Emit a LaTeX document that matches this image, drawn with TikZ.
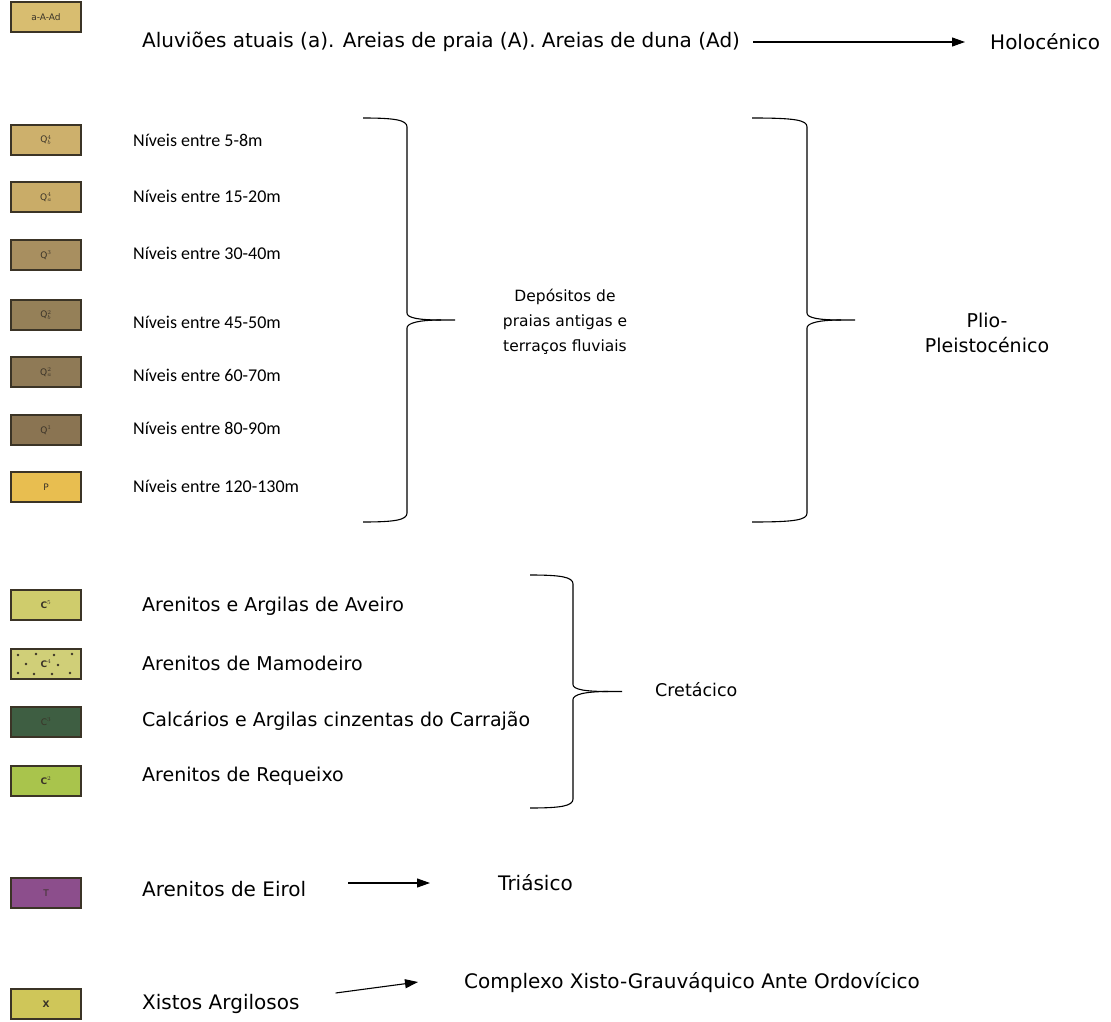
\documentclass[tikz,border=0pt]{standalone}
\usepackage{fontspec}
\setmainfont{DejaVu Sans}
\newfontfamily\levelfont{Carlito}
\usetikzlibrary{arrows.meta}

\definecolor{boxline}{HTML}{3B3426}
\definecolor{boxtext}{HTML}{3A3328}
\definecolor{cAlu}{HTML}{D8BD70}
\definecolor{cQa}{HTML}{CDB06C}
\definecolor{cQb}{HTML}{C9AC68}
\definecolor{cQc}{HTML}{A88F60}
\definecolor{cQd}{HTML}{958058}
\definecolor{cQe}{HTML}{8F7A56}
\definecolor{cQf}{HTML}{8A7452}
\definecolor{cP}{HTML}{E8BE50}
\definecolor{cCv}{HTML}{CFCC6C}
\definecolor{cCiv}{HTML}{D0CF78}
\definecolor{cCiii}{HTML}{3E5E42}
\definecolor{cCii}{HTML}{A9C44C}
\definecolor{cT}{HTML}{8C4E8C}
\definecolor{cX}{HTML}{CFC659}

% curly brace: #1 left ends, #2 spine, #3 tip x, #4 top, #5 bottom
\newcommand\legbrace[5]{%
  \pgfmathsetmacro\bmid{(#4+#5)/2}%
  \draw[brace] (#1,#4) .. controls ({#2-12},#4) and (#2,{#4+2}) .. (#2,{#4+9})
     -- (#2,{\bmid-7}) .. controls (#2,{\bmid-2}) and ({#2+12},\bmid) .. ({#3-14},\bmid) -- (#3,\bmid);
  \draw[brace] ({#3-14},\bmid) .. controls ({#2+12},\bmid) and (#2,{\bmid+3}) .. (#2,{\bmid+8})
     -- (#2,{#5-9}) .. controls (#2,{#5-2}) and ({#2-12},#5) .. (#1,#5);
}

\begin{document}
\begin{tikzpicture}[x=1pt,y=-1pt,
  lbl/.style={anchor=west, inner sep=0pt, font=\fontsize{20}{24}\selectfont},
  crt/.style={anchor=west, inner sep=0pt, font=\fontsize{19}{23}\selectfont},
  lvl/.style={anchor=west, inner sep=0pt, font=\levelfont\fontsize{18}{22}\selectfont},
  ctr/.style={align=center, inner sep=0pt, font=\fontsize{15.5}{25}\selectfont},
  unit/.style={draw=boxline, line width=1.6pt, minimum width=70pt, minimum height=30pt,
               inner sep=0pt, font=\fontsize{9}{10}\selectfont, text=boxtext},
  arr/.style={-{Triangle[length=13pt,width=9pt]}, line width=1.1pt},
  brace/.style={line width=1.1pt},
]
\useasboundingbox (0,0) rectangle (1111,1022);

% ---- legend units ----
\node[unit, fill=cAlu]  (uAlu) at (46,17)   {a-A-Ad};
\node[unit, fill=cQa]   (uQa)  at (46,140)  {Q$_{b}^{4}$};
\node[unit, fill=cQb]   (uQb)  at (46,197)  {Q$_{a}^{4}$};
\node[unit, fill=cQc]   (uQc)  at (46,255)  {Q$^{3}$};
\node[unit, fill=cQd]   (uQd)  at (46,315)  {Q$_{b}^{2}$};
\node[unit, fill=cQe]   (uQe)  at (46,372)  {Q$_{a}^{2}$};
\node[unit, fill=cQf]   (uQf)  at (46,430)  {Q$^{1}$};
\node[unit, fill=cP]    (uP)   at (46,487)  {P};
\node[unit, fill=cCv]   (uCv)  at (46,605)  {\textbf{C$^{5}$}};
\node[unit, fill=cCiv]  (uCiv) at (46,664)  {\textbf{C$^{4}$}};
\foreach \dx/\dy in {-28/-9,-10/-10,8/-9,26/-10,-20/0,12/1,-28/9,-12/10,6/10,24/9}
  \fill[boxline] ([shift={(\dx,\dy)}]uCiv.center) circle (1.3pt);
\node[unit, fill=cCiii] (uCiii) at (46,722) {C$^{3}$};
\node[unit, fill=cCii]  (uCii) at (46,781)  {\textbf{C$^{2}$}};
\node[unit, fill=cT]    (uT)   at (46,893)  {T};
\node[unit, fill=cX]    (uX)   at (46,1004) {\textbf{X}};

% ---- Holocene ----
\node[lbl] (alu) at (142,42) {Aluviões atuais (a). Areias de praia (A). Areias de duna (Ad)};
\node[lbl] (holo) at (990,42) {Holocénico};
\draw[arr, shorten <=13pt, shorten >=25pt] (alu.east) -- (holo.west);

% ---- terraces ----
\node[lvl] (n1) at (133,140) {Níveis entre 5-8m};
\node[lvl] (n2) at (133,196) {Níveis entre 15-20m};
\node[lvl] (n3) at (133,253) {Níveis entre 30-40m};
\node[lvl] (n4) at (133,322) {Níveis entre 45-50m};
\node[lvl] (n5) at (133,375) {Níveis entre 60-70m};
\node[lvl] (n6) at (133,428) {Níveis entre 80-90m};
\node[lvl] (n7) at (133,486) {Níveis entre 120-130m};

\legbrace{363}{407}{455}{118}{522}
\node[ctr] (dep) at (565,322) {Depósitos de\\praias antigas e\\terraços fluviais};

\legbrace{752}{807}{855}{118}{522}
\node[ctr, font=\fontsize{19}{25}\selectfont] (plio) at (987,333) {Plio-\\Pleistocénico};

% ---- Cretaceous ----
\node[crt] (c5) at (142,606) {Arenitos e Argilas de Aveiro};
\node[crt] (c4) at (142,663) {Arenitos de Mamodeiro};
\node[crt] (c3) at (142,721) {Calcários e Argilas cinzentas do Carrajão};
\node[crt] (c2) at (142,776) {Arenitos de Requeixo};

\legbrace{530}{573}{622}{575}{808}
\node[lbl, font=\fontsize{17.5}{21}\selectfont] (cret) at (655,690) {Cretácico};

% ---- Triassic ----
\node[lbl] (eir) at (142,889) {Arenitos de Eirol};
\node[lbl] (tri) at (498,883) {Triásico};
\draw[arr, shorten <=42pt, shorten >=68pt] (eir.east |- tri.west) -- (tri.west);

% ---- Schist-greywacke complex ----
\node[lbl] (xis) at (142,1004) {Xistos Argilosos};
\node[lbl] (cxg) at (464,983) {Complexo Xisto-Grauváquico Ante Ordovícico};
\draw[arr] ([shift={(36,-11)}]xis.east) -- ([xshift=-46pt,yshift=1pt]cxg.west);

\end{tikzpicture}
\end{document}
